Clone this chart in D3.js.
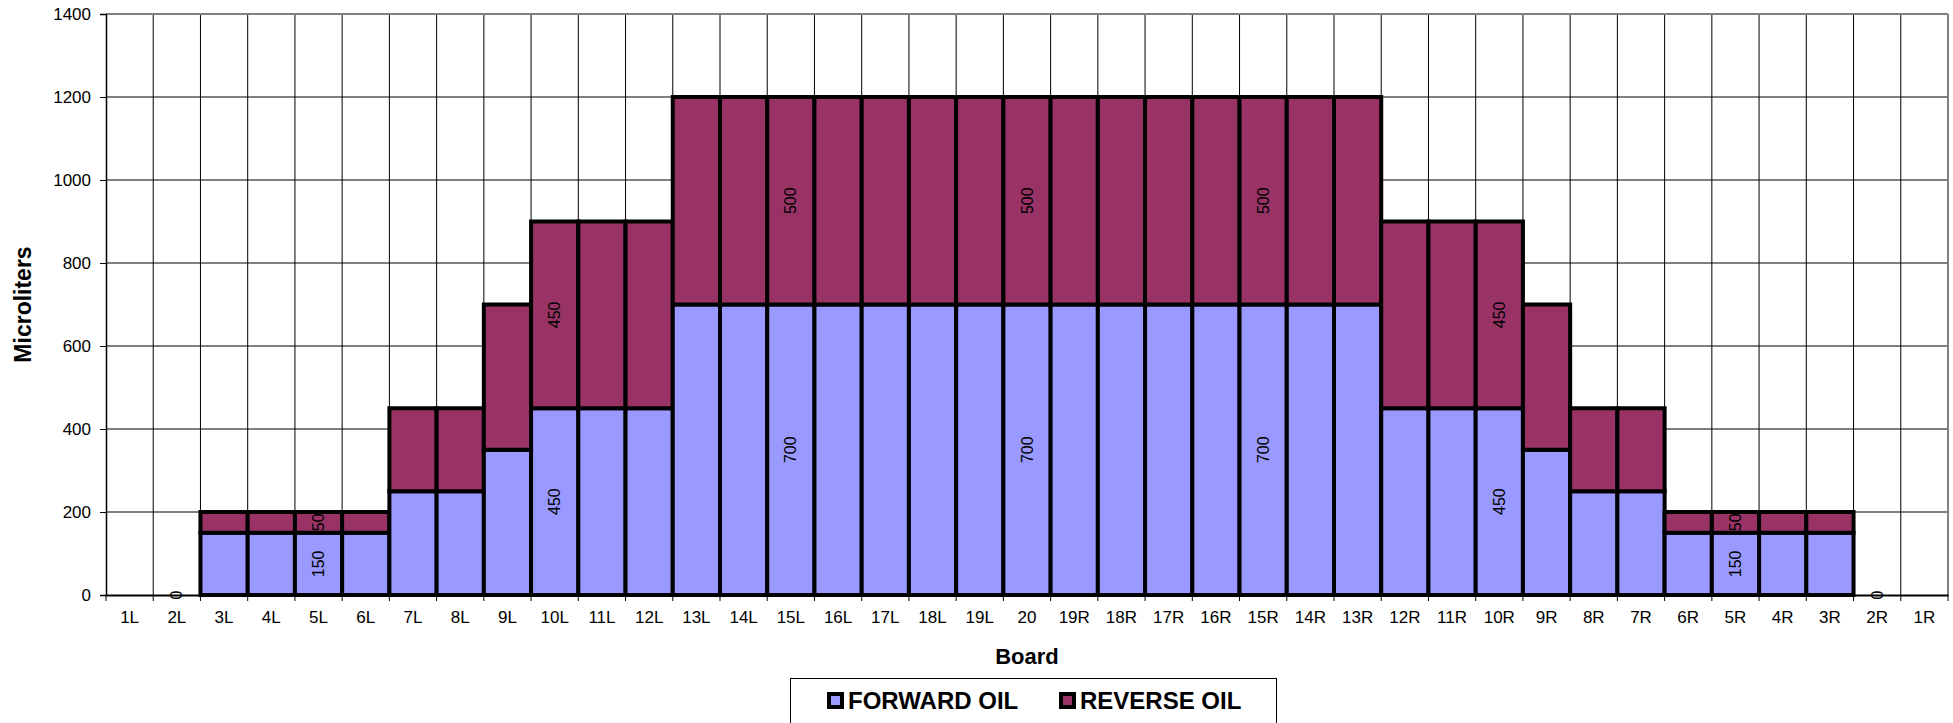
<!DOCTYPE html>
<html><head><meta charset="utf-8">
<script src="https://cdn.jsdelivr.net/npm/d3@7"></script>
<style>body{margin:0;background:#fff;}svg{display:block;font-family:Arial,"Liberation Sans",sans-serif;}</style>
</head><body><svg id="c" width="1953" height="723"></svg>
<script>
const boards = ["1L","2L","3L","4L","5L","6L","7L","8L","9L","10L","11L","12L","13L","14L","15L","16L","17L","18L","19L","20","19R","18R","17R","16R","15R","14R","13R","12R","11R","10R","9R","8R","7R","6R","5R","4R","3R","2R","1R"];
const forwardOil = [null,0,150,150,150,150,250,250,350,450,450,450,700,700,700,700,700,700,700,700,700,700,700,700,700,700,700,450,450,450,350,250,250,150,150,150,150,0,null];
const reverseOil = [null,null,50,50,50,50,200,200,350,450,450,450,500,500,500,500,500,500,500,500,500,500,500,500,500,500,500,450,450,450,350,200,200,50,50,50,50,null,null];
const labeledBoards = ["2L","5L","10L","15L","20","15R","10R","5R","2R"];
const yTicks = [0,200,400,600,800,1000,1200,1400];
const seriesNames = ["FORWARD OIL","REVERSE OIL"];
const colors = ["#9999FF","#993366"];

const svg = d3.select("#c");
const m = {l:106, r:1948, t:14, b:595};
const x = d3.scaleBand().domain(boards).range([m.l, m.r]).padding(0);
const y = d3.scaleLinear().domain([0,1400]).range([m.b, m.t]);

// horizontal gridlines
svg.append("g").selectAll("line").data(yTicks.slice(1,-1)).join("line")
  .attr("x1",m.l).attr("x2",m.r).attr("y1",d=>y(d)).attr("y2",d=>y(d))
  .attr("stroke","#000").attr("stroke-width",1);
// vertical gridlines
svg.append("g").selectAll("line").data(boards.slice(1)).join("line")
  .attr("x1",d=>x(d)).attr("x2",d=>x(d)).attr("y1",m.t).attr("y2",m.b)
  .attr("stroke","#000").attr("stroke-width",1);
// plot border top/right gray
svg.append("line").attr("x1",m.l).attr("x2",m.r).attr("y1",m.t).attr("y2",m.t).attr("stroke","#808080").attr("stroke-width",2);
svg.append("line").attr("x1",m.r).attr("x2",m.r).attr("y1",m.t).attr("y2",m.b).attr("stroke","#808080").attr("stroke-width",2);

// stacked data
const rows = boards.map((b,i)=>({board:b, f:forwardOil[i], r:reverseOil[i]}));
const segs = [];
rows.forEach(d=>{
  if (d.f!=null) segs.push({board:d.board, s:0, y0:0, y1:d.f, v:d.f});
  if (d.r!=null) segs.push({board:d.board, s:1, y0:(d.f||0), y1:(d.f||0)+d.r, v:d.r});
});
svg.append("g").selectAll("rect").data(segs.filter(d=>d.v>0)).join("rect")
  .attr("x",d=>x(d.board)).attr("width",x.bandwidth())
  .attr("y",d=>y(d.y1)).attr("height",d=>y(d.y0)-y(d.y1))
  .attr("fill",d=>colors[d.s]).attr("stroke","#000").attr("stroke-width",4);

// axes
const yAxis = svg.append("g").attr("transform",`translate(${m.l},0)`)
  .call(d3.axisLeft(y).tickValues(yTicks).tickSize(6).tickPadding(9).tickFormat(d3.format("d")));
yAxis.select(".domain").attr("stroke","#000").attr("stroke-width",1.5);
yAxis.selectAll(".tick line").attr("stroke","#000");
yAxis.selectAll("text").attr("font-size",17).attr("fill","#000").attr("font-family","Arial, 'Liberation Sans', sans-serif");

const xAxis = svg.append("g").attr("transform",`translate(0,${m.b})`)
  .call(d3.axisBottom(x).tickSize(0).tickPadding(16));
xAxis.select(".domain").attr("stroke","#000").attr("stroke-width",2);
xAxis.selectAll("text").attr("font-size",17).attr("fill","#000").attr("font-family","Arial, 'Liberation Sans', sans-serif");
// boundary ticks
svg.append("g").selectAll("line").data(boards.concat(["__end"])).join("line")
  .attr("x1",d=>d==="__end"?m.r:x(d)).attr("x2",d=>d==="__end"?m.r:x(d))
  .attr("y1",m.b).attr("y2",m.b+6).attr("stroke","#000").attr("stroke-width",1);

// value labels
const labs = segs.filter(d=>labeledBoards.includes(d.board));
svg.append("g").selectAll("text").data(labs).join("text")
  .attr("transform",d=>`translate(${x(d.board)+x.bandwidth()/2},${y((d.y0+d.y1)/2)}) rotate(-90)`)
  .attr("text-anchor","middle").attr("dominant-baseline","central")
  .attr("font-size",16).attr("fill","#000").text(d=>d.v);

// axis titles
svg.append("text").attr("x",(m.l+m.r)/2).attr("y",664).attr("text-anchor","middle")
  .attr("font-size",22).attr("font-weight","bold").text("Board");
svg.append("text").attr("transform",`translate(31,${(m.t+m.b)/2}) rotate(-90)`).attr("text-anchor","middle")
  .attr("font-size",23).attr("font-weight","bold").text("Microliters");

// legend
const lg = svg.append("g");
lg.append("rect").attr("x",790.5).attr("y",678.5).attr("width",486).attr("height",60)
  .attr("fill","#fff").attr("stroke","#000").attr("stroke-width",1);
const lx = [829, 1061];
seriesNames.forEach((n,i)=>{
  lg.append("rect").attr("x",lx[i]).attr("y",694).attr("width",13).attr("height",13)
    .attr("fill",colors[i]).attr("stroke","#000").attr("stroke-width",4);
  lg.append("text").attr("x",lx[i]+19).attr("y",709).attr("font-size",24).attr("font-weight","bold").text(n);
});
</script></body></html>
